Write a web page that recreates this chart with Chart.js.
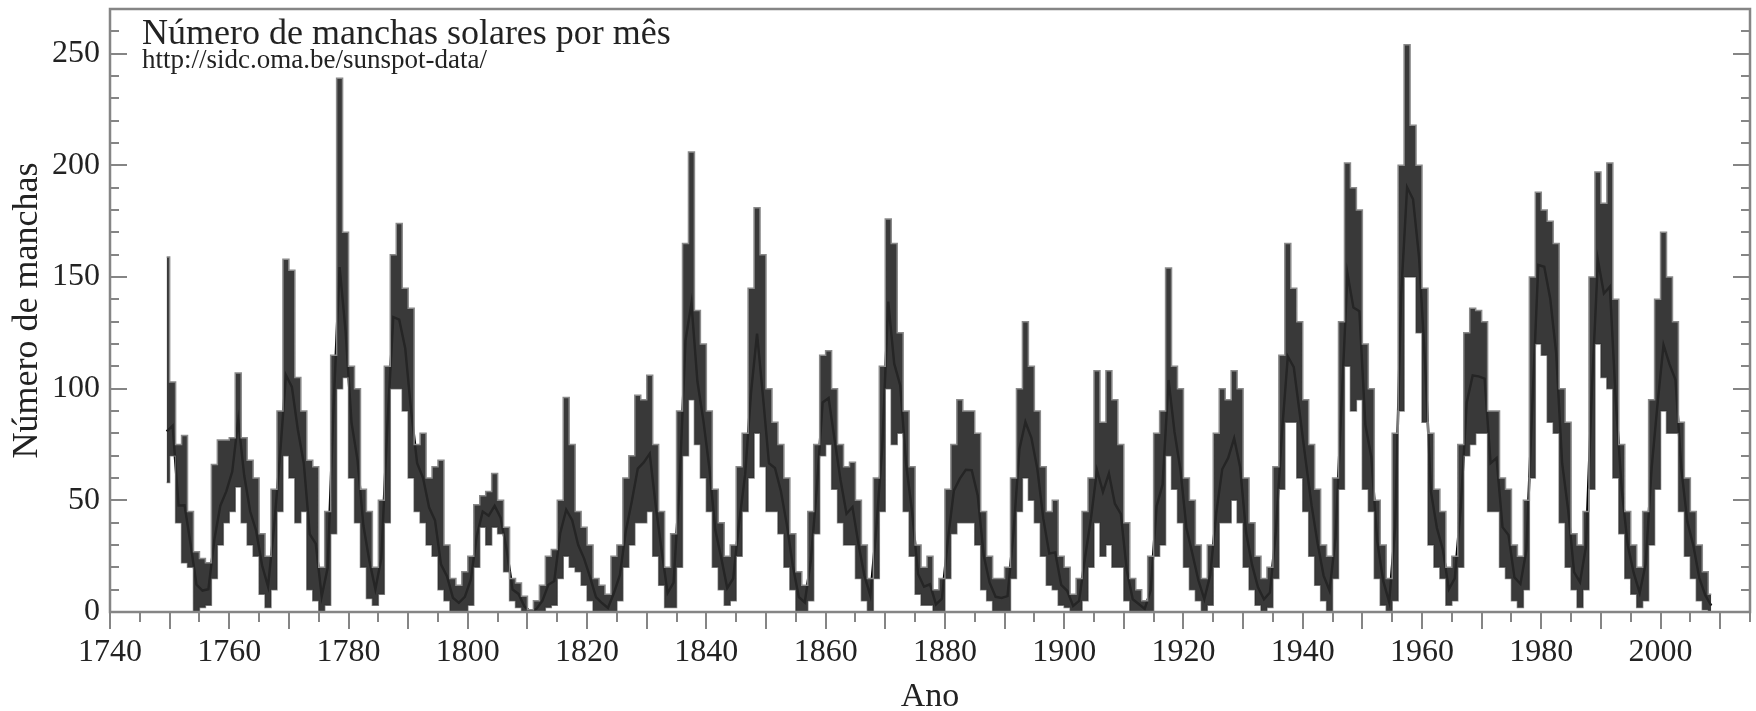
<!DOCTYPE html>
<html>
<head>
<meta charset="utf-8">
<title>Número de manchas solares por mês</title>
<script src="https://cdn.jsdelivr.net/npm/chart.js@4/dist/chart.umd.min.js"></script>
<style>
  html, body { margin: 0; padding: 0; background: #fff; }
  canvas { display: block; }
</style>
</head>
<body>
<canvas id="sunspots" width="1756" height="711"></canvas>
<script>
// Yearly summary of the monthly sunspot number, 1749-2008
const firstYear = 1749;

// yearly mean
const yearlyMean = [
  80.9, 83.4, 47.7, 47.8, 30.7, 12.2, 9.6, 10.2, 32.4, 47.6,      // 1749
  54.0, 62.9, 85.9, 61.2, 45.1, 36.4, 20.9, 11.4, 37.8, 69.8,     // 1759
  106.1, 100.8, 81.6, 66.5, 34.8, 30.6, 7.0, 19.8, 92.5, 154.4,   // 1769
  125.9, 84.8, 68.1, 38.5, 22.8, 10.2, 24.1, 82.9, 132.0, 130.9,  // 1779
  118.1, 89.9, 66.6, 60.0, 46.9, 41.0, 21.3, 16.0, 6.4, 4.1,      // 1789
  6.8, 14.5, 34.0, 45.0, 43.1, 47.5, 42.2, 28.1, 10.1, 8.1,       // 1799
  2.5, 0.0, 1.4, 5.0, 12.2, 13.9, 35.4, 45.8, 41.1, 30.1,         // 1809
  23.9, 15.6, 6.6, 4.0, 1.8, 8.5, 16.6, 36.3, 49.6, 64.2,         // 1819
  67.0, 70.9, 47.8, 27.5, 8.5, 13.2, 56.9, 121.5, 138.3, 103.2,   // 1829
  85.7, 64.6, 36.7, 24.2, 10.7, 15.0, 40.1, 61.5, 98.5, 124.7,    // 1839
  96.3, 66.6, 64.5, 54.1, 39.0, 20.6, 6.7, 4.3, 22.7, 54.8,       // 1849
  93.8, 95.8, 77.2, 59.1, 44.0, 47.0, 30.5, 16.3, 7.3, 37.6,      // 1859
  74.0, 139.0, 111.2, 101.6, 66.2, 44.7, 17.0, 11.3, 12.4, 3.4,   // 1869
  6.0, 32.3, 54.3, 59.7, 63.7, 63.5, 52.2, 25.4, 13.1, 6.8,       // 1879
  6.3, 7.1, 35.6, 73.0, 85.1, 78.0, 64.0, 41.8, 26.2, 26.7,       // 1889
  12.1, 9.5, 2.7, 5.0, 24.4, 42.0, 63.5, 53.8, 62.0, 48.5,        // 1899
  43.9, 18.6, 5.7, 3.6, 1.4, 9.6, 47.4, 57.1, 103.9, 80.6,        // 1909
  63.6, 37.6, 26.1, 14.2, 5.8, 16.7, 44.3, 63.9, 69.0, 77.8,      // 1919
  64.9, 35.7, 21.2, 11.1, 5.7, 8.7, 36.1, 79.7, 114.4, 109.6,     // 1929
  88.8, 67.8, 47.5, 30.6, 16.3, 9.6, 33.2, 92.6, 151.6, 136.3,    // 1939
  134.7, 83.9, 69.4, 31.5, 13.9, 4.4, 38.0, 141.7, 190.2, 184.8,  // 1949
  159.0, 112.3, 53.9, 37.6, 27.9, 10.2, 15.1, 47.0, 93.8, 105.9,  // 1959
  105.5, 104.5, 66.6, 68.9, 38.0, 34.5, 15.5, 12.6, 27.5, 92.5,   // 1969
  155.4, 154.6, 140.4, 115.9, 66.6, 45.9, 17.9, 13.4, 29.4, 100.2,// 1979
  157.6, 142.6, 145.7, 94.3, 54.6, 29.9, 17.5, 8.6, 21.5, 64.3,   // 1989
  93.3, 119.6, 111.0, 104.0, 63.7, 40.4, 29.8, 15.2, 7.5, 2.9     // 1999
];

// highest month of each year
const monthlyMax = [
  159, 103, 75, 79, 45, 27, 24, 22, 66, 77,
  77, 78, 107, 78, 68, 60, 35, 25, 55, 90,
  158, 153, 105, 90, 68, 65, 20, 45, 115, 239,
  170, 110, 100, 55, 45, 20, 50, 110, 160, 174,
  145, 136, 75, 80, 60, 65, 68, 30, 15, 12,
  18, 25, 48, 52, 54, 62, 50, 38, 15, 13,
  7, 1, 5, 12, 25, 28, 50, 96, 75, 45,
  38, 30, 15, 12, 8, 25, 30, 60, 70, 97,
  95, 106, 75, 45, 20, 35, 90, 165, 206, 135,
  120, 90, 55, 40, 25, 30, 65, 80, 145, 181,
  160, 100, 85, 75, 60, 35, 18, 12, 45, 75,
  115, 117, 100, 75, 65, 67, 50, 30, 15, 60,
  110, 176, 165, 125, 90, 65, 30, 20, 25, 10,
  15, 55, 75, 95, 90, 90, 80, 45, 25, 15,
  15, 20, 60, 100, 130, 110, 90, 65, 45, 50,
  25, 20, 8, 15, 45, 60, 108, 85, 108, 95,
  75, 40, 15, 10, 5, 25, 80, 90, 154, 110,
  100, 60, 50, 30, 15, 30, 80, 100, 95, 108,
  100, 60, 40, 25, 15, 20, 65, 115, 165, 145,
  130, 95, 75, 55, 30, 25, 60, 130, 201, 190,
  180, 120, 100, 50, 30, 15, 80, 200, 254, 218,
  200, 145, 80, 55, 45, 20, 25, 75, 125, 136,
  135, 130, 90, 90, 60, 55, 30, 25, 50, 150,
  188, 180, 175, 165, 100, 85, 35, 30, 45, 150,
  197, 183, 201, 140, 75, 45, 30, 20, 45, 95,
  140, 170, 150, 130, 85, 60, 45, 30, 18, 8
];

// lowest month of each year
const monthlyMin = [
  58, 70, 40, 22, 20, 0, 2, 3, 15, 30,
  40, 45, 56, 40, 30, 25, 8, 2, 10, 45,
  70, 60, 40, 45, 10, 5, 0, 3, 35, 100,
  105, 60, 40, 20, 6, 3, 8, 40, 100, 100,
  90, 60, 45, 40, 30, 25, 10, 5, 0, 0,
  0, 3, 20, 38, 30, 38, 35, 18, 5, 2,
  0, 0, 0, 0, 2, 3, 15, 25, 20, 18,
  12, 5, 0, 0, 0, 0, 5, 20, 30, 40,
  40, 45, 25, 12, 2, 2, 20, 70, 95, 75,
  60, 45, 20, 10, 3, 5, 25, 45, 60, 80,
  65, 45, 45, 35, 20, 10, 0, 0, 5, 35,
  70, 75, 55, 40, 30, 30, 15, 5, 0, 15,
  45, 100, 75, 80, 45, 25, 8, 3, 3, 0,
  0, 15, 35, 40, 40, 40, 30, 10, 5, 0,
  0, 0, 15, 45, 60, 50, 40, 25, 12, 10,
  3, 2, 0, 0, 5, 20, 40, 25, 30, 20,
  20, 5, 0, 0, 0, 0, 25, 30, 70, 55,
  40, 20, 10, 5, 0, 3, 20, 40, 40, 50,
  40, 20, 10, 3, 0, 2, 15, 55, 85, 85,
  60, 45, 25, 12, 5, 0, 15, 55, 110, 90,
  95, 55, 45, 15, 3, 0, 5, 90, 150, 150,
  125, 85, 30, 20, 15, 3, 5, 20, 70, 75,
  80, 80, 45, 45, 20, 15, 5, 2, 10, 60,
  120, 115, 85, 80, 40, 20, 10, 2, 10, 55,
  120, 105, 100, 60, 35, 15, 8, 2, 5, 30,
  55, 90, 80, 80, 45, 25, 15, 5, 1, 0
];

// axis labels
const xLabelYears = [1740, 1760, 1780, 1800, 1820, 1840, 1860, 1880, 1900, 1920, 1940, 1960, 1980, 2000];
const yLabelValues = [0, 50, 100, 150, 200, 250];

const titleText = 'Número de manchas solares por mês';
const sourceText = 'http://sidc.oma.be/sunspot-data/';

const serif = '"Liberation Serif", "DejaVu Serif", serif';
const axisGray = '#858585';

const pts = arr => arr.map((v, i) => ({ x: firstYear + i + 0.5, y: v }));

// frame, inward y ticks, outward x ticks and the caption in the corner
const framePlugin = {
  id: 'frame',
  afterDraw(chart) {
    const { ctx, chartArea: a, scales: { x, y } } = chart;
    ctx.save();
    ctx.strokeStyle = axisGray;
    ctx.lineWidth = 2.5;
    ctx.strokeRect(a.left, a.top, a.right - a.left, a.bottom - a.top);
    ctx.lineWidth = 2;
    ctx.beginPath();
    for (let v = x.min; v <= x.max; v += 5) {
      const px = Math.round(x.getPixelForValue(v));
      ctx.moveTo(px, a.bottom);
      ctx.lineTo(px, a.bottom + (v % 10 === 0 ? 17 : 10));
    }
    for (let v = y.min; v <= y.max; v += 10) {
      const py = Math.round(y.getPixelForValue(v));
      const len = v % 50 === 0 ? 17 : 9;
      ctx.moveTo(a.left, py);
      ctx.lineTo(a.left + len, py);
      ctx.moveTo(a.right, py);
      ctx.lineTo(a.right - len, py);
    }
    ctx.stroke();

    ctx.fillStyle = '#222';
    ctx.textBaseline = 'alphabetic';
    ctx.font = '36px ' + serif;
    ctx.fillText(titleText, a.left + 32, 44);
    ctx.font = '27px ' + serif;
    ctx.fillText(sourceText, a.left + 32, 68);
    ctx.restore();
  }
};

new Chart(document.getElementById('sunspots').getContext('2d'), {
  type: 'line',
  data: {
    datasets: [
      {
        label: 'máximo',
        data: pts(monthlyMax),
        borderColor: '#8a8a8a',
        borderWidth: 1.5,
        backgroundColor: 'rgba(40,40,40,0.92)',
        fill: '+1',
        stepped: 'middle',
        pointRadius: 0
      },
      {
        label: 'mínimo',
        data: pts(monthlyMin),
        borderColor: '#8a8a8a',
        borderWidth: 1.5,
        fill: false,
        stepped: 'middle',
        pointRadius: 0
      },
      {
        label: 'média',
        data: pts(yearlyMean),
        borderColor: '#000',
        borderWidth: 2.5,
        fill: false,
        pointRadius: 0,
        tension: 0
      }
    ]
  },
  options: {
    responsive: false,
    animation: false,
    events: [],
    layout: { padding: { top: 9, right: 6, left: 0, bottom: 0 } },
    plugins: {
      legend: { display: false },
      tooltip: { enabled: false }
    },
    scales: {
      x: {
        type: 'linear',
        min: 1740,
        max: 2015,
        grid: { display: false, drawTicks: false },
        border: { display: false },
        ticks: {
          stepSize: 5,
          autoSkip: false,
          maxRotation: 0,
          padding: 21,
          color: '#222',
          font: { family: serif, size: 32 },
          callback: v => xLabelYears.includes(v) ? String(v) : ''
        },
        title: {
          display: true,
          text: 'Ano',
          color: '#222',
          font: { family: serif, size: 34, lineHeight: 0.82 },
          padding: { top: 0, bottom: 0 }
        },
        afterFit: s => {
          s.height = 99;
          s.paddingLeft = 0;
          s.paddingRight = 0;
        }
      },
      y: {
        min: 0,
        max: 270,
        grid: { display: false, drawTicks: false },
        border: { display: false },
        ticks: {
          stepSize: 10,
          autoSkip: false,
          padding: 10,
          color: '#222',
          font: { family: serif, size: 32 },
          callback: v => yLabelValues.includes(v) ? String(v) : ''
        },
        title: {
          display: true,
          text: 'Número de manchas',
          color: '#222',
          font: { family: serif, size: 36, lineHeight: 1.2 },
          padding: { top: 6, bottom: 0 }
        },
        afterFit: s => {
          s.width = 110;
          s.paddingTop = 0;
          s.paddingBottom = 0;
        }
      }
    }
  },
  plugins: [framePlugin]
});
</script>
</body>
</html>
